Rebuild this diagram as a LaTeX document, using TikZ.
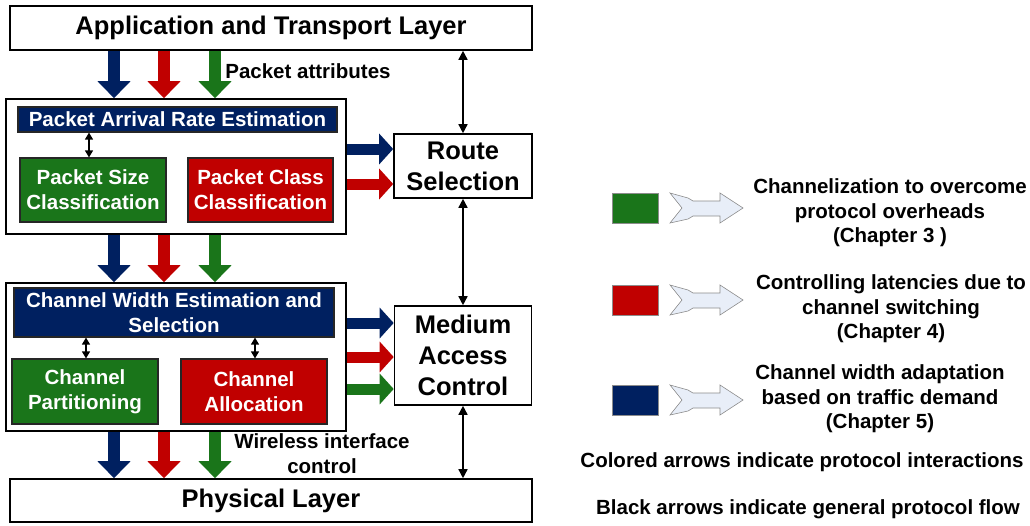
\documentclass[tikz,border=0pt]{standalone}
\usepackage{fontspec}
\setmainfont{Liberation Sans}
\usetikzlibrary{arrows.meta}

\definecolor{navy}{RGB}{0,32,96}
\definecolor{darkred}{RGB}{192,0,0}
\definecolor{darkgreen}{RGB}{26,117,26}
\definecolor{lgfill}{RGB}{232,238,248}
\definecolor{lgline}{RGB}{140,140,140}

\tikzset{every picture/.style={line width=0.75pt}}
\tikzset{
  bigfont/.style={font=\fontsize{25.5}{31}\selectfont\bfseries},
  smallfont/.style={font=\fontsize{20.5}{25}\selectfont\bfseries},
  layerbox/.style={draw, line width=1.6pt, fill=white, inner sep=0pt, bigfont, align=center},
  groupbox/.style={draw, line width=1.6pt, inner sep=0pt},
  colbox/.style={draw=black!85, line width=1.2pt, fill=#1, text=white, inner sep=0pt, smallfont, align=center},
  fatarrow/.style={draw=#1, line width=12pt, -{Triangle[width=32pt,length=17pt]}},
  sidearrow/.style={draw=#1, line width=11pt, -{Triangle[width=30pt,length=14pt]}},
  bothway/.style={line width=1.5pt, {Triangle[width=9pt,length=9pt]}-{Triangle[width=9pt,length=9pt]}},
  smallway/.style={line width=1.4pt, {Triangle[width=8pt,length=7pt]}-{Triangle[width=8pt,length=7pt]}},
  legsq/.style={draw=lgline, line width=0.6pt, minimum width=46, minimum height=30, inner sep=0pt},
  legtext/.style={font=\fontsize{20.5}{24.5}\selectfont\bfseries, align=center},
  lgarrow/.pic={
    \draw[draw=lgline, fill=lgfill, line width=0.6pt] (0,-15) -- (18,-11) -- (23,-8) -- (50,-8) -- (50,-15) -- (73,0) -- (50,15) -- (50,7) -- (23,7) -- (18,10) -- (0,15) -- (12,0) -- cycle;
  }
}

\begin{document}
\begin{tikzpicture}[x=1pt,y=1pt,yscale=-1,xscale=1]
	\useasboundingbox (0,0) rectangle (1030,525);

	% Layers
	\node[layerbox, minimum width=522, minimum height=44] (app) at (271,28) {Application and Transport Layer};
	\node[layerbox, minimum width=522, minimum height=43] (phy) at (271,500.5) {Physical Layer};
	\node[layerbox, minimum width=138, minimum height=64] (route) at (463,166) {Route\\Selection};
	\node[layerbox, minimum width=137, minimum height=99] (mac) at (463,355.5) {Medium\\Access\\Control};

	% Group boxes
	\node[groupbox, minimum width=340, minimum height=135] (estgroup) at (176,166.5) {};
	\node[groupbox, minimum width=340, minimum height=148] (chgroup) at (176,357) {};

	% Inner boxes
	\node[colbox=navy, minimum width=319, minimum height=25] (pare) at (177.5,119.5) {Packet Arrival Rate Estimation};
	\node[colbox=darkgreen, minimum width=146, minimum height=64] (psize) at (93,190) {Packet Size\\Classification};
	\node[colbox=darkred, minimum width=145, minimum height=64] (pclass) at (260.5,190) {Packet Class\\Classification};
	\node[colbox=navy, minimum width=320, minimum height=49] (cwes) at (174,312.5) {Channel Width Estimation and\\Selection};
	\node[colbox=darkgreen, minimum width=146, minimum height=65] (cpart) at (85,391.5) {Channel\\Partitioning};
	\node[colbox=darkred, minimum width=146, minimum height=65] (calloc) at (254,391.5) {Channel\\Allocation};

	% Colored arrows between layers
	\foreach \c/\col in {114/navy,164/darkred,215/darkgreen}{
		\draw[fatarrow=\col] (\c,0 |- app.south) -- (\c,0 |- estgroup.north);
		\draw[fatarrow=\col] (\c,0 |- estgroup.south) -- (\c,0 |- chgroup.north);
		\draw[fatarrow=\col] (\c,0 |- chgroup.south) -- (\c,0 |- phy.north);
	}

	% Colored arrows to the right
	\draw[sidearrow=navy] (estgroup.east |- 0,149) -- (route.west |- 0,149);
	\draw[sidearrow=darkred] (estgroup.east |- 0,184) -- (route.west |- 0,184);
	\draw[sidearrow=navy] (chgroup.east |- 0,323) -- (mac.west |- 0,323);
	\draw[sidearrow=darkred] (chgroup.east |- 0,357) -- (mac.west |- 0,357);
	\draw[sidearrow=darkgreen] (chgroup.east |- 0,389) -- (mac.west |- 0,389);

	% Black arrows
	\draw[bothway] (route.north |- app.south) -- (route.north);
	\draw[bothway] (route.south) -- (mac.north);
	\draw[bothway] (mac.south) -- (mac.south |- phy.north);
	\draw[smallway] (89,0 |- pare.south) -- (89,0 |- psize.north);
	\draw[smallway] (86,0 |- cwes.south) -- (86,0 |- cpart.north);
	\draw[smallway] (255,0 |- cwes.south) -- (255,0 |- calloc.north);

	% Text Node
	\node[smallfont, anchor=west, inner sep=0pt] (attr) at (225,71) {Packet attributes};
	% Text Node
	\node[smallfont, align=center, inner sep=0pt] (wic) at (322,454) {Wireless interface\\control};

	% Legend
	\node[legsq, fill=darkgreen] (lgsq1) at (635,208) {};
	\node[legsq, fill=darkred] (lgsq2) at (635,300) {};
	\node[legsq, fill=navy] (lgsq3) at (635,400) {};
	\pic at (670,208) {lgarrow};
	\pic at (670,300) {lgarrow};
	\pic at (670,400) {lgarrow};
	\node[legtext] (lgtext1) at (890,213) {Channelization to overcome\\protocol overheads\\(Chapter 3 )};
	\node[legtext] (lgtext2) at (891,309) {Controlling latencies due to\\channel switching\\(Chapter 4)};
	\node[legtext] (lgtext3) at (880,399) {Channel width adaptation\\based on traffic demand\\(Chapter 5)};
	\node[legtext] (note1) at (802,462) {Colored arrows indicate protocol interactions};
	\node[legtext] (note2) at (808,509) {Black arrows indicate general protocol flow};

\end{tikzpicture}
\end{document}
